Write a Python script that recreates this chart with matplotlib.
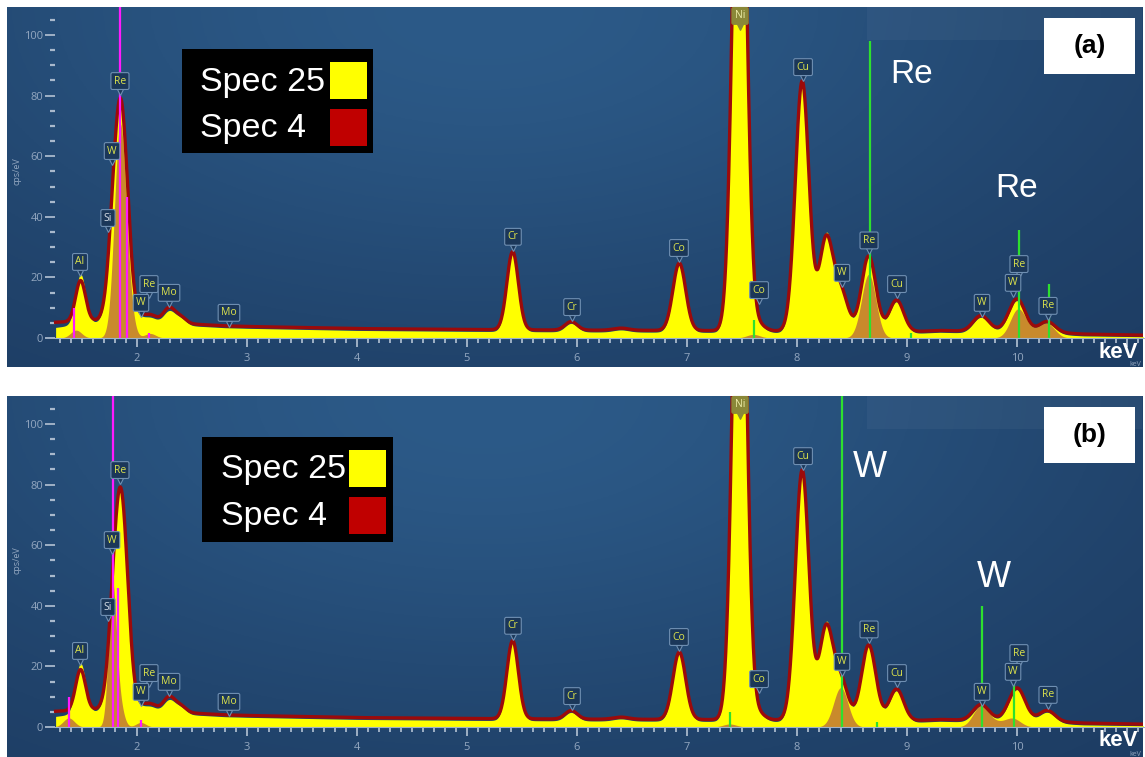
import numpy as np
import matplotlib.pyplot as plt
from matplotlib.patches import Rectangle
import matplotlib.transforms as mtransforms

FIG_W, FIG_H = 1145, 757

# ---- spectrum data (keV, cps/eV) ----
# peaks on top of the continuum: centre, width, height for each spectrum
PEAK_KEV      = [1.487, 1.740, 1.775, 1.845, 1.910, 2.035, 2.120, 2.293, 2.395,
                 5.415, 5.947, 6.400, 6.930, 7.478, 7.650, 8.047, 8.264, 8.398,
                 8.652, 8.905, 9.672, 9.961, 10.010, 10.275]
PEAK_SIGMA    = [0.045, 0.045, 0.040, 0.058, 0.050, 0.040, 0.050, 0.050, 0.050,
                 0.052, 0.055, 0.070, 0.058, 0.060, 0.060, 0.062, 0.062, 0.065,
                 0.065, 0.065, 0.070, 0.070, 0.070, 0.070]
SPEC4_HEIGHT  = [13.5, 4.0, 8.0, 66.0, 12.0, 1.0, 1.8, 4.5, 2.0,
                 25.8, 2.8, 0.7, 22.2, 200.0, 2.0, 82.5, 30.0, 13.0,
                 25.0, 10.5, 5.0, 2.5, 8.5, 3.5]
SPEC25_HEIGHT = [16.5, 4.0, 8.0, 67.0, 12.0, 1.0, 1.5, 4.0, 2.0,
                 25.8, 2.8, 0.7, 22.2, 200.0, 2.0, 82.5, 31.5, 13.0,
                 25.5, 10.5, 5.0, 2.5, 8.5, 3.5]

CONTINUUM_KEV = [1.26, 1.5, 1.7, 2.0, 2.2, 2.5, 2.8, 3.0, 4.0, 5.0,
                 6.0, 7.0, 8.0, 9.0, 9.3, 9.5, 9.8, 10.1, 10.6, 11.2]
SPEC4_CONT    = [5.2, 5.5, 6.0, 6.0, 5.8, 4.6, 4.0, 3.8, 3.1, 2.8,
                 2.6, 2.5, 2.3, 2.0, 2.5, 2.3, 2.5, 2.3, 1.3, 0.9]
SPEC25_CONT   = [3.5, 4.6, 5.4, 5.4, 5.2, 4.0, 3.4, 3.2, 2.5, 2.2,
                 2.0, 1.9, 1.7, 1.4, 1.9, 1.7, 1.9, 1.7, 0.7, 0.4]

# fitted element peaks (orange)
RE_FIT_KEV    = [1.446, 1.842, 1.906, 2.120, 7.603, 8.652, 10.010, 10.160, 10.275]
RE_FIT_SIGMA  = [0.050, 0.050, 0.050, 0.050, 0.060, 0.065, 0.070, 0.070, 0.070]
RE_FIT_HEIGHT = [2.6, 64.0, 14.0, 1.5, 1.2, 21.0, 9.5, 1.5, 4.5]
W_FIT_KEV     = [1.380, 1.775, 1.835, 2.035, 7.388, 8.398, 9.672, 9.819, 9.961]
W_FIT_SIGMA   = [0.050, 0.035, 0.040, 0.045, 0.060, 0.065, 0.070, 0.070, 0.070]
W_FIT_HEIGHT  = [3.0, 45.0, 8.0, 1.5, 1.0, 13.0, 7.0, 1.2, 2.8]

# line markers (M lines magenta, L lines green); 120 = runs off the top
RE_M_KEV = [1.43, 1.845, 1.909, 2.11]
RE_M_TOP = [10.0, 120.0, 46.5, 1.6]
RE_L_KEV = [7.61, 8.66, 9.04, 10.02, 10.29]
RE_L_TOP = [6.0, 98.0, 1.5, 35.6, 17.8]
W_M_KEV  = [1.38, 1.779, 1.83, 2.04]
W_M_TOP  = [9.9, 120.0, 45.8, 2.3]
W_L_KEV  = [7.39, 8.41, 8.73, 9.68, 9.97]
W_L_TOP  = [5.0, 120.0, 1.5, 40.0, 14.0]

# element tags
LABEL_TEXT = ['Al', 'Si', 'W', 'Re', 'W', 'Re', 'Mo', 'Mo', 'Cr', 'Cr', 'Co',
              'Ni', 'Co', 'Cu', 'W', 'Re', 'Cu', 'W', 'W', 'Re', 'Re']
LABEL_KEV  = [1.482, 1.736, 1.773, 1.845, 2.036, 2.109, 2.291, 2.836, 5.418,
              5.955, 6.927, 7.482, 7.655, 8.055, 8.409, 8.655, 8.909, 9.682,
              9.964, 10.018, 10.282]
LABEL_Y    = [25.1, 39.6, 61.7, 84.8, 11.6, 17.8, 14.9, 8.3, 33.4, 10.2, 29.7,
              106.3, 15.8, 89.4, 21.5, 32.2, 17.8, 11.6, 18.2, 24.4, 10.6]

YELLOW = '#ffff00'
RED = '#9c0a0a'
ORANGE = '#c98a2c'
MAGENTA = '#ff1aff'
GREEN = '#2ee02e'
TICK_C = '#93a7c0'


def fx(px):
    return px / FIG_W


def fy(py):
    return 1 - py / FIG_H


E = np.linspace(1.26, 11.2, 4000)


def gauss_sum(kev, sigma, height):
    y = np.zeros_like(E)
    for c, s, h in zip(kev, sigma, height):
        y += h * np.exp(-0.5 * ((E - c) / s) ** 2)
    return y


spec4 = np.interp(E, CONTINUUM_KEV, SPEC4_CONT) + gauss_sum(PEAK_KEV, PEAK_SIGMA, SPEC4_HEIGHT)
spec25 = np.interp(E, CONTINUUM_KEV, SPEC25_CONT) + gauss_sum(PEAK_KEV, PEAK_SIGMA, SPEC25_HEIGHT)

panels = [
    dict(top=7, bottom=367, zero=338, tag='(a)',
         fit=(RE_FIT_KEV, RE_FIT_SIGMA, RE_FIT_HEIGHT),
         mlines=(RE_M_KEV, RE_M_TOP), llines=(RE_L_KEV, RE_L_TOP),
         big=[('Re', 9.04, 86.8, 24), ('Re', 10.0, 49.5, 24)],
         legend=(182, 49, 373, 153), sq_x=330, txt_x=200),
    dict(top=396, bottom=757, zero=727, tag='(b)',
         fit=(W_FIT_KEV, W_FIT_SIGMA, W_FIT_HEIGHT),
         mlines=(W_M_KEV, W_M_TOP), llines=(W_L_KEV, W_L_TOP),
         big=[('W', 8.66, 85.8, 26), ('W', 9.79, 49.5, 26)],
         legend=(202, 437, 393, 542), sq_x=349, txt_x=221),
]

PX_PER_KEV, KEV_OFFSET = 110.0, 83.0
PX_PER_CPS = 3.03
LEFT, RIGHT = 7, 1143

fig = plt.figure(figsize=(FIG_W / 100, FIG_H / 100), dpi=100)
fig.patch.set_facecolor('white')

# background gradient of the acquisition window
gu, gv = np.meshgrid(np.linspace(0, 1, 300), np.linspace(0, 1, 200))
glow = np.exp(-((gu - 0.42) / 0.55) ** 2 - ((gv - 1.0) / 0.9) ** 2)
dark = np.array([0x1c, 0x3a, 0x60]) / 255
light = np.array([0x2c, 0x5a, 0x88]) / 255
grad = dark + (light - dark) * glow[..., None]

for p in panels:
    top, bottom, zero = p['top'], p['bottom'], p['zero']
    height = bottom - top
    ax = fig.add_axes([fx(LEFT), fy(bottom), (RIGHT - LEFT) / FIG_W, height / FIG_H])
    ax.set_xlim((LEFT + KEV_OFFSET) / PX_PER_KEV, (RIGHT + KEV_OFFSET) / PX_PER_KEV)
    ax.set_ylim((zero - bottom) / PX_PER_CPS, (zero - top) / PX_PER_CPS)

    ax.imshow(grad, extent=[0, 1, 0, 1], transform=ax.transAxes, aspect='auto',
              origin='lower', zorder=0)
    # faint strip in the upper right corner
    ax.add_patch(Rectangle(((867 - LEFT) / (RIGHT - LEFT), 1 - 33 / height),
                           (1142 - 867) / (RIGHT - LEFT), 33 / height,
                           transform=ax.transAxes, fc='white', alpha=0.04, lw=0, zorder=0.5))

    # spectra
    fit = np.minimum(gauss_sum(*p['fit']), spec4)
    ax.fill_between(E, 0, spec25, color=YELLOW, lw=0, zorder=2)
    ax.fill_between(E, 0, fit, color=ORANGE, lw=0, zorder=3)
    ax.plot(E, spec4, color=RED, lw=2.4, zorder=5, solid_joinstyle='round')

    ax.vlines(p['mlines'][0], 0, p['mlines'][1], colors=MAGENTA, lw=1.6, zorder=6)
    ax.vlines(p['llines'][0], 0, p['llines'][1], colors=GREEN, lw=1.6, zorder=6)

    # element tags with pointer
    tip = mtransforms.offset_copy(ax.transData, fig=fig, y=-11, units='dots')
    for t, k, v in zip(LABEL_TEXT, LABEL_KEV, LABEL_Y):
        fc, ec, tc = '#1b3759', '#6f8fb2', '#dde34c'
        if t == 'Si':
            tc = '#d6dde6'
        if t == 'Ni':
            fc, ec, tc = '#8a8838', '#8a8838', '#eeeeaa'
        ax.plot(k, v, marker='v', ms=5, mfc=fc, mec=ec, mew=0.8, transform=tip,
                zorder=8, clip_on=True)
        ax.text(k, v, t, ha='center', va='center', fontsize=7.5, color=tc,
                family='Open Sans', zorder=9,
                bbox=dict(boxstyle='round,pad=0.28,rounding_size=0.15', fc=fc, ec=ec, lw=0.8))

    for txt, k, v, size in p['big']:
        ax.text(k, v, txt, ha='center', va='center', fontsize=size, color='white',
                family='Liberation Sans', zorder=9)

    # axes styling
    for s in ['top', 'right']:
        ax.spines[s].set_visible(False)
    ax.spines['left'].set_position(('data', (55 + KEV_OFFSET) / PX_PER_KEV))
    ax.spines['left'].set_color('none')
    ax.spines['bottom'].set_position(('data', 0))
    ax.spines['bottom'].set_bounds((55 + KEV_OFFSET) / PX_PER_KEV, 11.2)
    ax.spines['bottom'].set_color('#9fb3ca')
    ax.spines['bottom'].set_zorder(7)

    ax.set_yticks(np.arange(0, 101, 20))
    ax.set_yticks([v for v in range(5, 106, 5) if v % 20], minor=True)
    ax.set_xticks(np.arange(2, 12))
    ax.set_xticklabels([str(k) for k in range(2, 11)] + [''])
    ax.set_xticks([k / 10 for k in range(13, 112) if k % 10], minor=True)
    ax.tick_params(axis='y', which='major', length=7, width=1.3, color='#a9b9cc',
                   labelcolor=TICK_C, labelsize=8, pad=1.5)
    ax.tick_params(axis='y', which='minor', length=3.5, width=1.6, color='#a9b9cc')
    ax.tick_params(axis='x', which='major', length=6.5, width=1.3, color='#a9b9cc',
                   labelcolor=TICK_C, labelsize=8, pad=4)
    ax.tick_params(axis='x', which='minor', length=3.5, width=1.3, color='#a9b9cc')
    for lab in ax.get_xticklabels() + ax.get_yticklabels():
        lab.set_family('Open Sans')

    fig.text(fx(17), fy(zero - 55 * PX_PER_CPS), 'cps/eV', rotation=90, ha='center',
             va='center', fontsize=6.5, color=TICK_C, family='Open Sans')
    fig.text(fx(1118), fy(zero + 14), 'keV', ha='center', va='center', fontsize=16,
             fontweight='bold', color='white', family='Liberation Sans', zorder=12)
    fig.text(fx(1141), fy(zero + 27), 'keV', ha='right', va='center', fontsize=5,
             color=TICK_C, family='Open Sans', zorder=11)

    # legend box
    l, t, r, b = p['legend']
    fig.add_artist(Rectangle((fx(l), fy(b)), (r - l) / FIG_W, (b - t) / FIG_H,
                             transform=fig.transFigure, fc='black', lw=0, zorder=10))
    sx = p['sq_x']
    for k, (name, col) in enumerate([('Spec 25', YELLOW), ('Spec 4', '#c00000')]):
        sy = t + 13 + k * 47
        fig.add_artist(Rectangle((fx(sx), fy(sy + 37)), 37 / FIG_W, 37 / FIG_H,
                                 transform=fig.transFigure, fc=col, lw=0, zorder=11))
        fig.text(fx(p['txt_x']), fy(sy + 20), name, ha='left', va='center',
                 fontsize=24.5, color='white', family='Liberation Sans', zorder=12)

    # panel tag
    tag_top = top + 11
    fig.add_artist(Rectangle((fx(1044), fy(tag_top + 56)), 91 / FIG_W, 56 / FIG_H,
                             transform=fig.transFigure, fc='white', lw=0, zorder=10))
    fig.text(fx(1089.5), fy(tag_top + 28), p['tag'], ha='center', va='center',
             fontsize=19, fontweight='bold', color='black', family='Liberation Sans',
             zorder=12)

fig.savefig('out.png', dpi=100)
